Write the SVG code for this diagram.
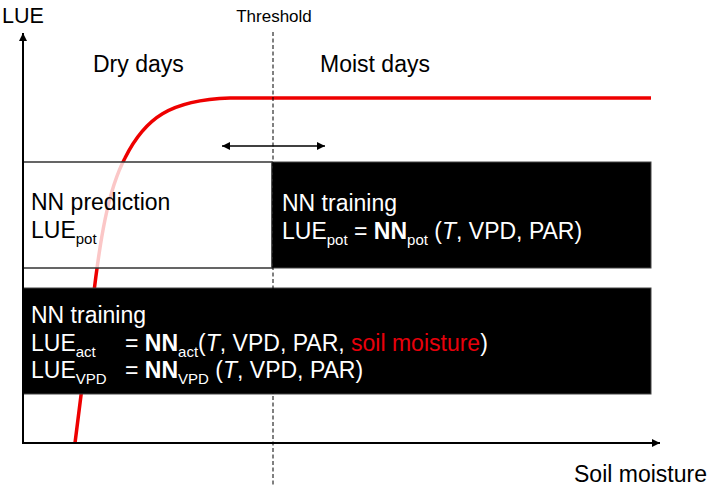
<svg xmlns="http://www.w3.org/2000/svg" width="709" height="486" viewBox="0 0 709 486">
<style>
text{font-family:"Liberation Sans",Arial,Helvetica,sans-serif;fill:#000}
.big{font-size:23px}
.w{fill:#fff}
.sub{font-size:15px}
.b{font-weight:bold}
.i{font-style:italic}
.red{fill:#e8000b}
.ax{stroke:#000;stroke-width:2;fill:none}
</style>
<defs>
<marker id="ahs" viewBox="0 0 10 10" refX="10" refY="5" markerWidth="9" markerHeight="8" orient="auto-start-reverse" markerUnits="userSpaceOnUse">
<path d="M0,0 L10,5 L0,10 z" fill="#000"/>
</marker>
</defs>
<rect width="709" height="486" fill="#fff"/>

<g id="curve">
<path d="M75,443 L93,300 C100,240 108,190 125,158 C145,118 170,100 230,98 L651,98" fill="none" stroke="#ee0000" stroke-width="3.5"/>
</g>

<g id="prediction-box">
<rect x="23" y="162" width="249" height="106" fill="#fff" fill-opacity="0.78" stroke="#333" stroke-width="1.5"/>
<text class="big" x="31" y="210">NN prediction</text>
<text class="big" x="31" y="238">LUE<tspan class="sub" dy="6">pot</tspan></text>
</g>

<g id="training-pot-box">
<rect x="272" y="162" width="379" height="106" fill="#000" stroke="#444" stroke-width="1"/>
<text class="big w" x="282" y="211">NN training</text>
<text class="big w" x="282" y="239">LUE<tspan class="sub" dy="6">pot</tspan><tspan dy="-6"> = </tspan><tspan class="b">NN</tspan><tspan class="sub" dy="6">pot</tspan><tspan dy="-6"> (</tspan><tspan class="i">T</tspan>, VPD, PAR)</text>
</g>

<g id="training-act-box">
<rect x="23" y="288" width="628" height="106" fill="#000" stroke="#444" stroke-width="1"/>
<text class="big w" x="31" y="323">NN training</text>
<text class="big w" x="31" y="351">LUE<tspan class="sub" dy="6">act</tspan><tspan x="125" dy="-6">= </tspan><tspan class="b">NN</tspan><tspan class="sub" dy="6">act</tspan><tspan dy="-6">(</tspan><tspan class="i">T</tspan>, VPD, PAR, <tspan class="red">soil moisture</tspan>)</text>
<text class="big w" x="31" y="378">LUE<tspan class="sub" dy="6">VPD</tspan><tspan x="125" dy="-6">= </tspan><tspan class="b">NN</tspan><tspan class="sub" dy="6">VPD</tspan><tspan dy="-6"> (</tspan><tspan class="i">T</tspan>, VPD, PAR)</text>
</g>

<g id="labels">
<text x="2" y="23" style="font-size:21.5px">LUE</text>
<text x="274" y="22" text-anchor="middle" style="font-size:17px">Threshold</text>
<text class="big" x="93" y="72">Dry days</text>
<text class="big" x="320" y="72">Moist days</text>
<text class="big" x="574" y="482">Soil moisture</text>
</g>

<g id="connectors">
<line x1="273" y1="32" x2="273" y2="486" stroke="#000" stroke-width="1" stroke-dasharray="4,2.5"/>
<line x1="222" y1="146" x2="325" y2="146" stroke="#000" stroke-width="1.5" marker-start="url(#ahs)" marker-end="url(#ahs)"/>
<path class="ax" d="M23,443 L23,33" marker-end="url(#ahs)"/>
<path class="ax" d="M22,443 L660,443" marker-end="url(#ahs)"/>
</g>
</svg>
